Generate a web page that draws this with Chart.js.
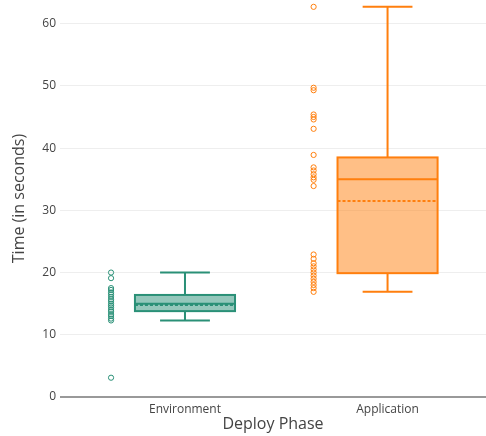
<!DOCTYPE html>
<html>
<head>
<meta charset="utf-8">
<script src="https://cdn.jsdelivr.net/npm/chart.js@4"></script>
<style>
  body { margin: 0; background: #fff; }
  #wrap { width: 486px; height: 436px; }
</style>
</head>
<body>
<div id="wrap"><canvas id="chart" width="486" height="436"></canvas></div>
<script>
// deploy phases on the x axis
const phases = ['Environment', 'Application'];

// raw timings (seconds)
const envTimes = [20.0, 19.1, 17.5, 17.2, 16.8, 16.5, 16.1, 15.7, 15.4, 15.0, 14.7, 14.4, 14.0, 13.7, 13.3, 13.0, 12.6, 12.3, 3.1];
const appTimes = [62.7, 49.7, 49.3, 45.4, 45.0, 44.6, 43.1, 38.9, 36.9, 36.4, 35.8, 35.3, 34.9, 33.9,
  22.9, 22.2, 21.5, 21.0, 20.5, 20.0, 19.5, 19.0, 18.5, 18.0, 17.5, 16.9];

// box statistics per phase
const lowerWhisker = [12.3, 16.9];
const q1 = [13.8, 19.9];
const median = [15.0, 35.0];
const q3 = [16.4, 38.5];
const upperWhisker = [20.0, 62.7];
const means = [14.8, 31.5];

const strokes = ['#2a9077', '#ff7f0e'];
const fills = ['rgba(42,144,119,0.5)', 'rgba(255,127,14,0.5)'];

const POINT_OFFSET = -0.365;
const BOX_HALF = 0.247;
const CAP_HALF = 0.123;

// draws the boxes with the chart's own scales
const boxPlugin = {
  id: 'boxes',
  beforeDatasetsDraw(chart) {
    const ctx = chart.ctx;
    const xs = chart.scales.x;
    const ys = chart.scales.y;
    phases.forEach((p, i) => {
      const xl = xs.getPixelForValue(i - BOX_HALF);
      const xr = xs.getPixelForValue(i + BOX_HALF);
      const xc = xs.getPixelForValue(i);
      const cl = xs.getPixelForValue(i - CAP_HALF);
      const cr = xs.getPixelForValue(i + CAP_HALF);
      const yq1 = ys.getPixelForValue(q1[i]);
      const yq3 = ys.getPixelForValue(q3[i]);
      const ymed = ys.getPixelForValue(median[i]);
      const ymean = ys.getPixelForValue(means[i]);
      const ylo = ys.getPixelForValue(lowerWhisker[i]);
      const yhi = ys.getPixelForValue(upperWhisker[i]);

      ctx.save();
      ctx.lineWidth = 2;
      ctx.strokeStyle = strokes[i];
      ctx.fillStyle = fills[i];
      ctx.fillRect(xl, yq3, xr - xl, yq1 - yq3);
      ctx.strokeRect(xl, yq3, xr - xl, yq1 - yq3);

      ctx.beginPath();
      // whiskers + caps
      ctx.moveTo(xc, yq3); ctx.lineTo(xc, yhi);
      ctx.moveTo(cl, yhi); ctx.lineTo(cr, yhi);
      ctx.moveTo(xc, yq1); ctx.lineTo(xc, ylo);
      ctx.moveTo(cl, ylo); ctx.lineTo(cr, ylo);
      // median
      ctx.moveTo(xl, ymed); ctx.lineTo(xr, ymed);
      ctx.stroke();

      // mean (dashed)
      ctx.beginPath();
      ctx.setLineDash([3, 2]);
      ctx.moveTo(xl, ymean); ctx.lineTo(xr, ymean);
      ctx.stroke();
      ctx.restore();
    });
  }
};

const pointSets = [envTimes, appTimes].map((arr, i) => ({
  type: 'scatter',
  label: phases[i],
  data: arr.map(v => ({ x: i + POINT_OFFSET, y: v })),
  pointRadius: 2.6,
  pointBorderWidth: 1,
  pointBorderColor: strokes[i],
  pointBackgroundColor: 'rgba(255,255,255,0)',
  pointHoverRadius: 3,
  clip: false
}));

const font = { family: '"Open Sans", sans-serif' };

new Chart(document.getElementById('chart'), {
  type: 'scatter',
  data: { datasets: pointSets },
  plugins: [boxPlugin],
  options: {
    responsive: false,
    animation: false,
    layout: { padding: 0, autoPadding: false },
    plugins: {
      legend: { display: false },
      tooltip: { enabled: false }
    },
    scales: {
      x: {
        type: 'linear',
        min: -0.617,
        max: 1.486,
        grid: { display: false, drawTicks: false, tickLength: 0 },
        border: { display: false },
        afterBuildTicks: (scale) => { scale.ticks = phases.map((p, i) => ({ value: i })); },
        afterFit: (scale) => {
          scale.height = 39;
          scale.paddingLeft = 0;
          scale.paddingRight = 0;
        },
        ticks: {
          color: '#444',
          padding: 5,
          font: { ...font, size: 12 },
          callback: (v) => phases[v]
        },
        title: {
          display: true,
          text: 'Deploy Phase',
          color: '#444',
          padding: { top: 0, bottom: 2 },
          font: { ...font, size: 16 }
        }
      },
      y: {
        min: 0,
        max: 63.8,
        border: { display: false },
        afterFit: (scale) => {
          scale.width = 60;
          scale.paddingTop = 0;
          scale.paddingBottom = 0;
        },
        grid: {
          drawTicks: false,
          color: (c) => c.tick && c.tick.value === 0 ? '#999' : '#eee',
          lineWidth: (c) => c.tick && c.tick.value === 0 ? 2 : 1
        },
        ticks: {
          stepSize: 10,
          includeBounds: false,
          color: '#444',
          padding: 4,
          font: { ...font, size: 12 }
        },
        title: {
          display: true,
          text: 'Time (in seconds)',
          color: '#444',
          padding: { top: 10, bottom: 0 },
          font: { ...font, size: 16 }
        }
      }
    }
  }
});
</script>
</body>
</html>
